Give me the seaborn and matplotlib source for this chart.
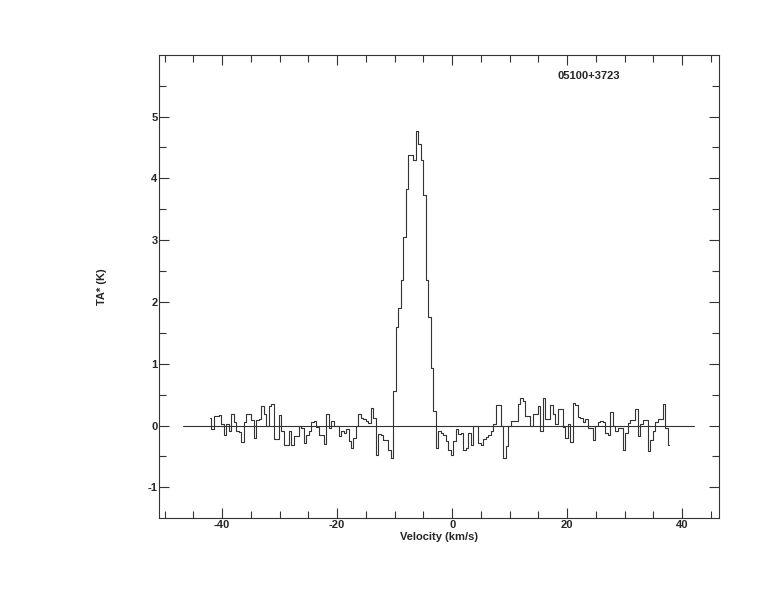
import numpy as np
import pandas as pd
import matplotlib
matplotlib.use('Agg')
import matplotlib.pyplot as plt
from matplotlib.ticker import MultipleLocator
import seaborn as sns

# Spectrum: channel grid and antenna temperature
v_start = -42.1   # km/s, first channel centre
chan_width = 0.4335  # km/s
ta_star = [
    0.12, -0.06, 0.15, 0.15, 0.17, 0.02, -0.16, 0.03, -0.08, 0.19,
    0.06, -0.08, -0.10, -0.26, 0.06, 0.19, 0.19, 0.09, -0.20, 0.09,
    0.10, 0.32, 0.18, -0.01, 0.31, 0.35, -0.21, -0.21, 0.17, -0.08,
    -0.31, -0.31, -0.09, -0.31, -0.17, -0.17, 0.00, -0.04, -0.28, -0.15,
    -0.08, 0.05, 0.07, -0.02, -0.15, -0.15, -0.29, 0.18, -0.04,
    0.07, -0.01, -0.01, -0.17, -0.09, -0.12, -0.05, -0.25, -0.36, -0.20,
    0.00, 0.19, 0.12, 0.10, 0.07, 0.04, 0.28, 0.12, -0.47, -0.13,
    -0.15, -0.23, -0.23, -0.39, -0.52,
    0.56, 1.60, 1.90, 2.35, 3.05, 3.82, 4.37, 4.37, 4.30, 4.77,
    4.56, 4.30, 3.73, 2.35, 1.76, 0.93, 0.23,
    -0.36, -0.09, -0.12, -0.15, -0.25, -0.39, -0.47, -0.25, -0.05, -0.13,
    -0.12, -0.39, -0.36, -0.12, -0.31, 0.00, -0.01, -0.28, -0.31, -0.22,
    -0.18, -0.15, -0.09, 0.02, 0.34, 0.34, -0.01, -0.52, -0.33, -0.01,
    0.07, 0.07, 0.07, 0.35, 0.45, 0.39, 0.16, 0.16, 0.00, 0.18,
    0.18, 0.32, -0.08, 0.45, 0.10, 0.10, 0.34, 0.18, 0.02, 0.27,
    0.27, -0.03, -0.20, 0.02, -0.26, 0.37, 0.34, 0.14, 0.12, 0.05,
    0.10, -0.04, -0.04, -0.23, -0.01, 0.05, 0.07, 0.05, -0.12, -0.15,
    0.22, -0.01, -0.09, -0.04, -0.04, -0.39, -0.12, 0.04, 0.09, 0.09,
    0.27, -0.17, 0.02, 0.09, 0.09, -0.41, -0.23, -0.09, 0.05, 0.11,
    0.11, 0.35, -0.04, -0.31,
]
baseline_range = [-46.8, 42.1]
source_name = '05100+3723'

df = pd.DataFrame({'Velocity': v_start + chan_width * np.arange(len(ta_star)),
                   'TA': ta_star})

sns.set_style('ticks', {
    'xtick.direction': 'in',
    'ytick.direction': 'in',
    'axes.edgecolor': 'black',
})
plt.rcParams['font.family'] = ['Liberation Sans', 'DejaVu Sans']
plt.rcParams['axes.unicode_minus'] = False

fig = plt.figure(figsize=(7.74, 6.12), dpi=100)
ax = fig.add_axes([0.2054, 0.1536, 0.929 - 0.2054, 0.9101 - 0.1536])

sns.lineplot(data=df, x='Velocity', y='TA', ax=ax, drawstyle='steps-mid',
             color='#333333', linewidth=0.8, estimator=None)
ax.plot(baseline_range, [0, 0], color='#333333', linewidth=0.8)

ax.set_xlim(-51, 46.4)
ax.set_ylim(-1.495, 5.995)
ax.xaxis.set_major_locator(MultipleLocator(20))
ax.xaxis.set_minor_locator(MultipleLocator(5))
ax.yaxis.set_major_locator(MultipleLocator(1))
ax.yaxis.set_minor_locator(MultipleLocator(0.5))
ax.tick_params(which='both', top=True, right=True, direction='in',
               width=0.8, color='#333333', labelsize=8)
ax.tick_params(which='major', length=7.2)
ax.tick_params(which='minor', length=5)
ax.tick_params(axis='y', which='major', pad=1)
ax.tick_params(axis='x', which='major', pad=1.5)
for lab in ax.get_xticklabels() + ax.get_yticklabels():
    lab.set_fontweight('bold')
for sp in ax.spines.values():
    sp.set_linewidth(0.8)
    sp.set_color('#333333')

ax.set_xlabel('Velocity (km/s)', fontsize=8, fontweight='bold', labelpad=1.5)
ax.set_ylabel('TA* (K)', fontsize=8, fontweight='bold', labelpad=29)
ax.text(0.767, 0.955, source_name, transform=ax.transAxes, ha='center',
        va='center', fontsize=8, fontweight='bold')

fig.savefig('out.png', dpi=100, facecolor='white')
